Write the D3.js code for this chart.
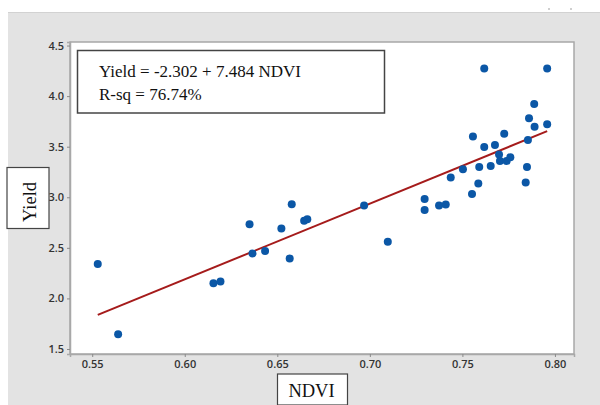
<!DOCTYPE html>
<html>
<head>
<meta charset="utf-8">
<script src="https://cdn.jsdelivr.net/npm/d3@7"></script>
<style>
  body { margin: 0; background: #fff; }
  svg { display: block; }
</style>
</head>
<body>
<div id="vis"></div>
<script>
// NDVI (x) vs Yield (y)
const ndvi = [0.553, 0.564, 0.6155, 0.6193, 0.635, 0.6366, 0.6434, 0.6522, 0.6567, 0.6578,
  0.6645, 0.6662, 0.6969, 0.7097, 0.7296, 0.7296, 0.7374, 0.741,
  0.7437, 0.7503, 0.7552, 0.7557, 0.7586, 0.7591, 0.7618, 0.7618, 0.7653, 0.7676,
  0.7698, 0.7703, 0.7726, 0.7739, 0.7759, 0.7842, 0.7849, 0.7854, 0.786, 0.7888,
  0.789, 0.7958, 0.7958];
const yieldVals = [2.34, 1.645, 2.149, 2.168, 2.734, 2.445, 2.47, 2.69, 2.395, 2.931,
  2.767, 2.783, 2.918, 2.559, 2.984, 2.875, 2.918, 2.928,
  3.195, 3.277, 3.033, 3.60, 3.136, 3.30, 3.497, 4.274, 3.31, 3.517,
  3.422, 3.359, 3.629, 3.359, 3.395, 3.146, 3.30, 3.566, 3.78, 3.922,
  3.698, 3.721, 4.274];
const fit = { intercept: -2.302, slope: 7.484 };
const xTicks = [0.55, 0.60, 0.65, 0.70, 0.75, 0.80];
const yTicks = [1.5, 2.0, 2.5, 3.0, 3.5, 4.0, 4.5];
const eqLines = ["Yield = -2.302 + 7.484 NDVI", "R-sq = 76.74%"];

const width = 600, height = 405;
const plot = { left: 70, top: 42, right: 574, bottom: 354 };

const svg = d3.create("svg").attr("width", width).attr("height", height);

// outer grey panel
svg.append("rect").attr("x", 8).attr("y", 12).attr("width", width - 8).attr("height", height - 12)
  .attr("fill", "#e3e3e3");
svg.append("line").attr("x1", 8).attr("x2", width).attr("y1", 12.5).attr("y2", 12.5)
  .attr("stroke", "#d2d2d2");
// little marks at the top right
svg.append("rect").attr("x", 548).attr("y", 8).attr("width", 2).attr("height", 2).attr("fill", "#cfcfcf");
svg.append("rect").attr("x", 570).attr("y", 8).attr("width", 2).attr("height", 2).attr("fill", "#cfcfcf");

// plot area
svg.append("rect").attr("x", plot.left).attr("y", plot.top)
  .attr("width", plot.right - plot.left).attr("height", plot.bottom - plot.top)
  .attr("fill", "#fff").attr("stroke", "#a8a8a8").attr("stroke-width", 1.5);

const x = d3.scaleLinear().domain([0.538, 0.8103]).range([plot.left, plot.right]);
const y = d3.scaleLinear().domain([1.4505, 4.535]).range([plot.bottom, plot.top]);

const xAxis = svg.append("g").attr("transform", `translate(0,${plot.bottom})`)
  .call(d3.axisBottom(x).tickValues(xTicks).tickFormat(d3.format(".2f")).tickSizeOuter(0).tickSize(3));
const yAxis = svg.append("g").attr("transform", `translate(${plot.left},0)`)
  .call(d3.axisLeft(y).tickValues(yTicks).tickFormat(d3.format(".1f")).tickSizeOuter(0).tickSize(3));

[xAxis, yAxis].forEach(g => {
  g.select(".domain").attr("stroke", "#a8a8a8").attr("stroke-width", 1.5);
  g.selectAll(".tick line").attr("stroke", "#8a8a8a");
  g.selectAll(".tick text").attr("fill", "#333")
    .style("font-family", "'Open Sans', sans-serif").style("font-size", "11px").style("font-weight", 600);
});

// fitted line across the data range
const xr = d3.extent(ndvi);
svg.append("line")
  .attr("x1", x(xr[0])).attr("y1", y(fit.intercept + fit.slope * xr[0]))
  .attr("x2", x(xr[1])).attr("y2", y(fit.intercept + fit.slope * xr[1]))
  .attr("stroke", "#a51b1b").attr("stroke-width", 2);

// points
svg.append("g").selectAll("circle").data(ndvi).join("circle")
  .attr("cx", d => x(d)).attr("cy", (d, i) => y(yieldVals[i]))
  .attr("r", 4).attr("fill", "#0b57a6");

// equation box
svg.append("rect").attr("x", 77.5).attr("y", 50.5).attr("width", 307).attr("height", 62.5)
  .attr("fill", "#fff").attr("stroke", "#444").attr("stroke-width", 1.5);
svg.append("g").selectAll("text").data(eqLines).join("text")
  .attr("x", 99).attr("y", (d, i) => 77 + i * 23)
  .style("font-family", "'Liberation Serif', 'Times New Roman', serif").style("font-size", "17px")
  .attr("fill", "#111").text(d => d);

// axis title boxes
svg.append("rect").attr("x", 7).attr("y", 167.5).attr("width", 42).attr("height", 61)
  .attr("fill", "#fff").attr("stroke", "#444").attr("stroke-width", 1.2);
svg.append("text").attr("transform", "translate(36,202) rotate(-90)")
  .attr("text-anchor", "middle")
  .style("font-family", "'Liberation Serif', 'Times New Roman', serif").style("font-size", "18.5px")
  .attr("fill", "#111").text("Yield");

svg.append("rect").attr("x", 277.5).attr("y", 374).attr("width", 70).attr("height", 31)
  .attr("fill", "#fff").attr("stroke", "#444").attr("stroke-width", 1.2);
svg.append("text").attr("x", 311.5).attr("y", 397)
  .attr("text-anchor", "middle")
  .style("font-family", "'Liberation Serif', 'Times New Roman', serif").style("font-size", "18.5px")
  .attr("fill", "#111").text("NDVI");

document.getElementById("vis").appendChild(svg.node());
</script>
</body>
</html>
